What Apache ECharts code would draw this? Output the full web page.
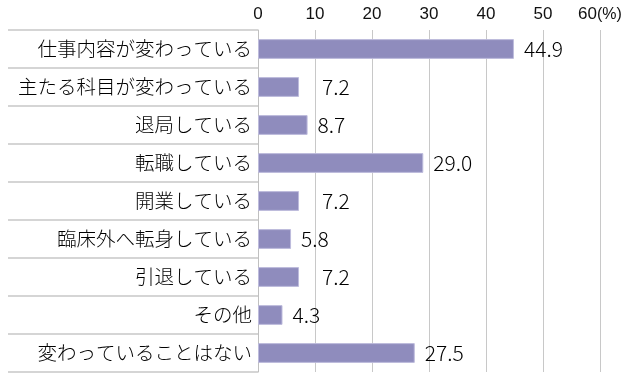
<!DOCTYPE html>
<html><head><meta charset="utf-8">
<script src="https://cdn.jsdelivr.net/npm/echarts@6/dist/echarts.min.js"></script>
<style>html,body{margin:0;padding:0;background:#fff}#c{width:640px;height:384px}</style>
</head><body><div id="c"></div>
<script>
const categories = ['仕事内容が変わっている','主たる科目が変わっている','退局している','転職している','開業している','臨床外へ転身している','引退している','その他','変わっていることはない'];
const values = [44.9, 7.2, 8.7, 29.0, 7.2, 5.8, 7.2, 4.3, 27.5];
const axisMax = 60;
const axisStep = 10;

const chart = echarts.init(document.getElementById('c'), null, {renderer:'canvas'});
chart.setOption({
  animation:false,
  backgroundColor:'#fff',
  grid:{left:258, right:40, top:30, bottom:12, containLabel:false},
  xAxis:{
    type:'value', position:'top', min:0, max:axisMax, interval:axisStep,
    axisLine:{show:false}, axisTick:{show:false},
    splitLine:{show:true, lineStyle:{color:'#c8c8c8', width:1}},
    axisLabel:{
      margin:7, color:'#111', fontSize:17, fontFamily:'Liberation Sans, Arial, sans-serif',
      formatter:function(v){ return v===axisMax ? v+'{p|(%)}' : String(v); },
      rich:{p:{fontSize:16, color:'#111', fontFamily:'Liberation Sans, Arial, sans-serif'}}
    }
  },
  yAxis:{
    type:'category', data:categories, inverse:true,
    axisLine:{show:true, lineStyle:{color:'#c0c0c0', width:1}},
    axisTick:{show:true, length:250, lineStyle:{color:'#c8c8c8', width:1.5}},
    axisLabel:{margin:6, color:'#000', fontSize:19.5, fontWeight:300, fontFamily:'Noto Sans CJK JP'}
  },
  series:[{
    type:'bar',
    data:values.map(function(v){
      return v===7.2 ? {value:v, label:{distance:23}} : v;
    }),
    barWidth:'52%',
    itemStyle:{color:'#8f8cbd', borderColor:'#bdbbdc', borderWidth:1},
    label:{show:true, position:'right', distance:10, color:'#000', fontSize:21, fontWeight:300,
      fontFamily:'Noto Sans CJK JP, Liberation Sans, sans-serif',
      formatter:function(p){ return p.value.toFixed(1); }}
  }]
});
</script></body></html>
